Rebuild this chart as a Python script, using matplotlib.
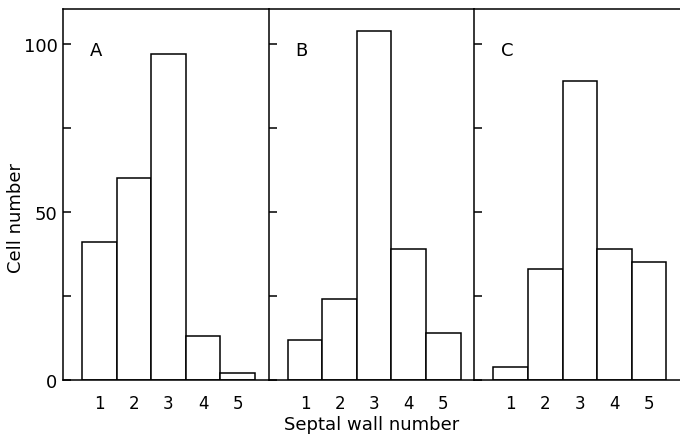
import numpy as np
import matplotlib.pyplot as plt

walls = [1, 2, 3, 4, 5]
cells_A = [41, 60, 97, 13, 2]
cells_B = [12, 24, 104, 39, 14]
cells_C = [4, 33, 89, 39, 35]
panels = ['A', 'B', 'C']

plt.rcParams['font.family'] = 'DejaVu Sans'

fig = plt.figure(figsize=(6.8, 4.39), dpi=100)

left = 63 / 680
width = 205.7 / 680
bottom = 58 / 439
height = 371 / 439

data = [cells_A, cells_B, cells_C]
for i, (name, vals) in enumerate(zip(panels, data)):
    ax = fig.add_axes([left + i * width, bottom, width, height])
    ax.bar(walls, vals, width=1.0, color='white', edgecolor='black', linewidth=1.1)
    ax.set_xlim(-0.05, 5.9)
    ax.set_ylim(0, 110.4)
    ax.spines['right'].set_visible(False)
    for s in ['left', 'top', 'bottom']:
        ax.spines[s].set_linewidth(1.1)
    ax.set_xticks(walls)
    ax.set_xticklabels([str(w) for w in walls], fontsize=12)
    ax.tick_params(axis='x', length=0, pad=10)
    ax.set_yticks([0, 25, 50, 75, 100])
    if i == 0:
        ax.set_yticklabels(['0', '', '50', '', '100'], fontsize=13)
        ax.set_ylabel('Cell number', fontsize=13)
        ax.yaxis.set_label_coords(-0.185, 0.44)
    else:
        ax.set_yticklabels([])
    ax.tick_params(axis='y', direction='in', length=6, width=1.1, pad=4)
    ax.text(0.13, 0.89, name, transform=ax.transAxes, fontsize=13, ha='left', va='center')
    if i == 1:
        ax.set_xlabel('Septal wall number', fontsize=13, labelpad=2)

plt.savefig('out.png', dpi=100)
